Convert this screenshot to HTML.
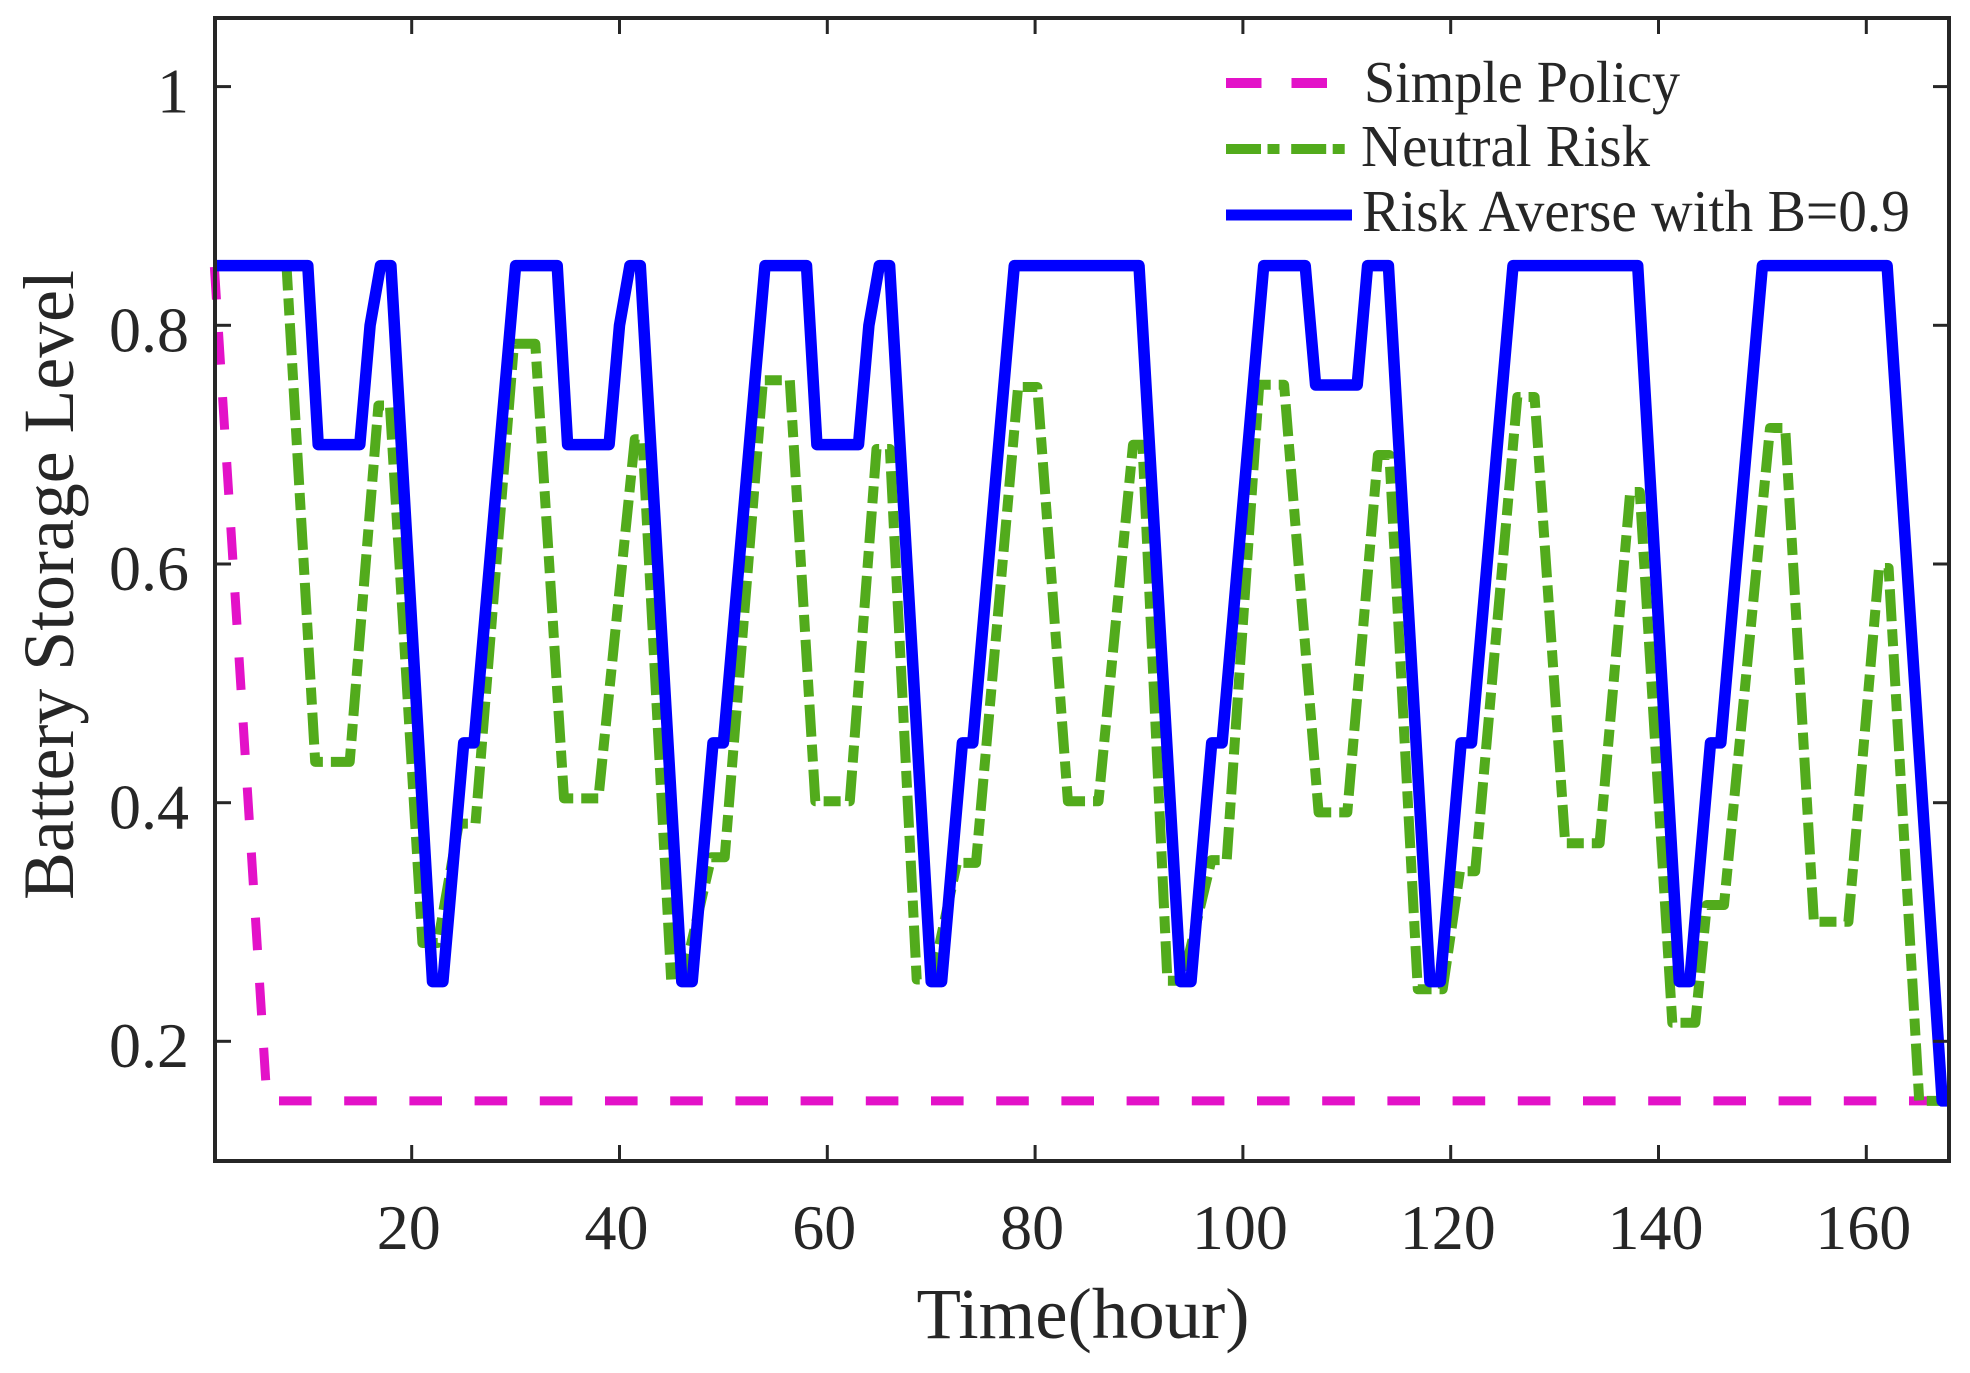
<!DOCTYPE html>
<html>
<head>
<meta charset="utf-8">
<style>
html,body{margin:0;padding:0;background:#ffffff;}
svg{display:block;}
text{font-family:"Liberation Serif","Times New Roman",serif;fill:#262626;}
</style>
</head>
<body>
<svg width="1970" height="1373" viewBox="0 0 1970 1373" xmlns="http://www.w3.org/2000/svg">
<rect x="0" y="0" width="1970" height="1373" fill="#ffffff"/>

<!-- Simple Policy (magenta dashed) -->
<path d="M214.3,265.6 L267,1100.9 L1949.4,1100.9" fill="none" stroke="#e312c8" stroke-width="9" stroke-dasharray="32.6 32.6" stroke-dashoffset="63.84"/>

<!-- Neutral Risk (green dash-dot) -->
<path d="M214.3,265.6 L286.5,265.6 L315.2,761.9 L349.7,761.9 L378.4,405.5 L389.9,405.5 L422.4,943 L437.7,943 L458.8,823.6 L475.5,823.6 L514,343.8 L535.3,343.8 L564,798.4 L598.4,798.4 L634.8,439.2 L642.5,439.2 L671.2,980.7 L682.6,980.7 L711.3,857.3 L724.7,857.3 L763,380.3 L789.8,380.3 L815.3,801.2 L849.8,801.2 L876.5,449 L889.9,449 L916.7,979.5 L932,979.5 L956.9,862.9 L976,862.9 L1018.1,387 L1037.3,387 L1067.9,801.2 L1098.5,801.2 L1133,444.8 L1142.5,444.8 L1167.4,980.7 L1182.7,980.7 L1211.4,860.1 L1226.7,860.1 L1259.2,384.8 L1284.1,384.8 L1318.6,812.4 L1347.3,812.4 L1377.9,455 L1389.4,455 L1417.8,989.2 L1442.7,989.2 L1459.9,871.3 L1475.2,871.3 L1517.3,397 L1534.6,397 L1565.2,843.3 L1599.6,843.3 L1630.2,492 L1639.8,492 L1672.3,1022.8 L1695.3,1022.8 L1706.8,905 L1724,905 L1770,428 L1785.2,428 L1813.9,921.8 L1848.4,921.8 L1879,568 L1888.6,568 L1919.2,1100.9 L1949.4,1100.9" fill="none" stroke="#52ab1c" stroke-width="10" stroke-dasharray="32 8 17 8" stroke-linejoin="round"/>

<!-- Risk Averse (blue solid) -->
<path d="M214.3,265.6 L307.8,265.6 L318.2,444.6 L359.8,444.6 L370.1,325.3 L380.5,265.6 L390.9,265.6 L432.5,981.6 L442.9,981.6 L463.7,742.9 L474.0,742.9 L515.6,265.6 L557.2,265.6 L567.6,444.6 L609.1,444.6 L619.5,325.3 L629.9,265.6 L640.3,265.6 L681.8,981.6 L692.2,981.6 L713.0,742.9 L723.4,742.9 L765.0,265.6 L806.5,265.6 L816.9,444.6 L858.5,444.6 L868.9,325.3 L879.3,265.6 L889.6,265.6 L931.2,981.6 L941.6,981.6 L962.4,742.9 L972.8,742.9 L1014.3,265.6 L1139.0,265.6 L1180.6,981.6 L1191.0,981.6 L1211.7,742.9 L1222.1,742.9 L1263.7,265.6 L1305.2,265.6 L1315.6,385.0 L1357.2,385.0 L1367.6,265.6 L1388.4,265.6 L1429.9,981.6 L1440.3,981.6 L1461.1,742.9 L1471.5,742.9 L1513.0,265.6 L1637.7,265.6 L1679.3,981.6 L1689.7,981.6 L1710.5,742.9 L1720.8,742.9 L1762.4,265.6 L1887.1,265.6 L1942.2,1100.9 L1949.4,1100.9" fill="none" stroke="#0000ff" stroke-width="11.5" stroke-linejoin="round"/>

<!-- Axes frame -->
<rect x="215" y="18" width="1734" height="1143" fill="none" stroke="#262626" stroke-width="4"/>

<!-- X ticks (bottom & top) -->
<g stroke="#262626" stroke-width="3">
<line x1="411.7" y1="1161" x2="411.7" y2="1145"/><line x1="411.7" y1="18" x2="411.7" y2="34"/>
<line x1="619.5" y1="1161" x2="619.5" y2="1145"/><line x1="619.5" y1="18" x2="619.5" y2="34"/>
<line x1="827.3" y1="1161" x2="827.3" y2="1145"/><line x1="827.3" y1="18" x2="827.3" y2="34"/>
<line x1="1035.1" y1="1161" x2="1035.1" y2="1145"/><line x1="1035.1" y1="18" x2="1035.1" y2="34"/>
<line x1="1242.9" y1="1161" x2="1242.9" y2="1145"/><line x1="1242.9" y1="18" x2="1242.9" y2="34"/>
<line x1="1450.7" y1="1161" x2="1450.7" y2="1145"/><line x1="1450.7" y1="18" x2="1450.7" y2="34"/>
<line x1="1658.5" y1="1161" x2="1658.5" y2="1145"/><line x1="1658.5" y1="18" x2="1658.5" y2="34"/>
<line x1="1866.3" y1="1161" x2="1866.3" y2="1145"/><line x1="1866.3" y1="18" x2="1866.3" y2="34"/>
<!-- Y ticks (left & right) -->
<line x1="215" y1="1041.3" x2="231" y2="1041.3"/><line x1="1949" y1="1041.3" x2="1933" y2="1041.3"/>
<line x1="215" y1="802.7" x2="231" y2="802.7"/><line x1="1949" y1="802.7" x2="1933" y2="802.7"/>
<line x1="215" y1="564" x2="231" y2="564"/><line x1="1949" y1="564" x2="1933" y2="564"/>
<line x1="215" y1="325.3" x2="231" y2="325.3"/><line x1="1949" y1="325.3" x2="1933" y2="325.3"/>
<line x1="215" y1="86.6" x2="231" y2="86.6"/><line x1="1949" y1="86.6" x2="1933" y2="86.6"/>
</g>

<!-- Y tick labels -->
<g font-size="64" text-anchor="end">
<text x="189" y="1067">0.2</text>
<text x="189" y="828.5">0.4</text>
<text x="189" y="590">0.6</text>
<text x="189" y="351.5">0.8</text>
<text x="189" y="112.5">1</text>
</g>

<!-- X tick labels -->
<g font-size="64" text-anchor="middle">
<text x="408.7" y="1249">20</text>
<text x="616.5" y="1249">40</text>
<text x="824.3" y="1249">60</text>
<text x="1032.1" y="1249">80</text>
<text x="1239.9" y="1249">100</text>
<text x="1447.7" y="1249">120</text>
<text x="1655.5" y="1249">140</text>
<text x="1863.3" y="1249">160</text>
</g>

<!-- Axis labels -->
<text x="1083" y="1338" font-size="72" text-anchor="middle" textLength="333" lengthAdjust="spacingAndGlyphs">Time(hour)</text>
<text transform="translate(73,585) rotate(-90)" x="0" y="0" font-size="72" text-anchor="middle" textLength="630" lengthAdjust="spacingAndGlyphs">Battery Storage Level</text>

<!-- Legend -->
<line x1="1226" y1="83" x2="1352" y2="83" stroke="#e312c8" stroke-width="10" stroke-dasharray="35.5 30"/>
<line x1="1226" y1="149" x2="1352" y2="149" stroke="#52ab1c" stroke-width="10" stroke-dasharray="35 6.5 12 11.7"/>
<line x1="1226" y1="215" x2="1352" y2="215" stroke="#0000ff" stroke-width="11"/>
<g font-size="59">
<text x="1364" y="102" textLength="316" lengthAdjust="spacingAndGlyphs">Simple Policy</text>
<text x="1361" y="166" textLength="289" lengthAdjust="spacingAndGlyphs">Neutral Risk</text>
<text x="1362" y="231" textLength="548" lengthAdjust="spacingAndGlyphs">Risk Averse with B=0.9</text>
</g>
</svg>
</body>
</html>
